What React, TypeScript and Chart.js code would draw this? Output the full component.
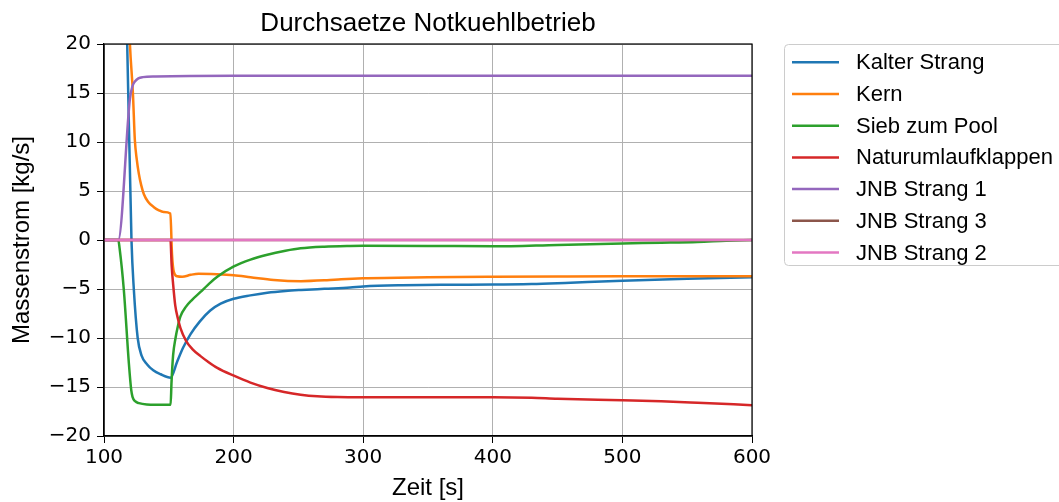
import React, { useEffect, useRef } from 'react';
import { Chart, registerables } from 'chart.js';

Chart.register(...registerables);

const TITLE = 'Durchsaetze Notkuehlbetrieb';
const X_TITLE = 'Zeit [s]';
const Y_TITLE = 'Massenstrom [kg/s]';

const xTicks = [100, 200, 300, 400, 500, 600];
const yTicks = [20, 15, 10, 5, 0, -5, -10, -15, -20];

const seriesNames = [
  'Kalter Strang',
  'Kern',
  'Sieb zum Pool',
  'Naturumlaufklappen',
  'JNB Strang 1',
  'JNB Strang 3',
  'JNB Strang 2',
];
const seriesColors = ['#1f77b4', '#ff7f0e', '#2ca02c', '#d62728', '#9467bd', '#8c564b', '#e377c2'];

// Kalter Strang
const kalterT = [100, 114, 117.9, 121.2, 123, 126, 129, 133.3, 138, 143.6, 151.4, 156.5, 161, 166.8, 174, 182, 190, 200, 213, 226, 240, 252, 270, 290, 300, 330, 360, 400, 430, 460, 500, 550, 600];
const kalterV = [60, 40, 20, 0, -5, -10, -11.8, -12.7, -13.3, -13.7, -14.05, -12.4, -11, -9.6, -8.3, -7.2, -6.5, -6.0, -5.65, -5.38, -5.2, -5.1, -4.98, -4.85, -4.75, -4.62, -4.56, -4.55, -4.5, -4.35, -4.15, -3.95, -3.8];

// Kern
const kernT = [100, 116, 120, 122.3, 123.8, 125.3, 126.9, 128.7, 130.7, 134, 138.5, 142, 146, 151.2, 152.5, 154, 156.5, 160.3, 167, 173, 187, 200, 213, 231, 252, 272, 283, 300, 350, 400, 450, 500, 550, 600];
const kernV = [45, 35, 20, 15, 10.2, 8.2, 6.75, 5.6, 4.7, 3.9, 3.35, 3.05, 2.85, 2.7, -1.5, -3.3, -3.7, -3.75, -3.55, -3.45, -3.5, -3.6, -3.8, -4.08, -4.2, -4.1, -4.0, -3.9, -3.8, -3.75, -3.72, -3.7, -3.7, -3.7];

// Sieb zum Pool
const siebT = [100, 111, 112, 115.3, 119.2, 121, 122, 124, 127, 133, 140, 151.4, 152.1, 153.3, 155.2, 157, 159, 163.3, 168, 174.5, 180, 187.4, 200.2, 213, 226, 240, 251.7, 270, 290, 300, 350, 400, 450, 500, 530, 558, 580, 600];
const siebV = [0, 0, -0.8, -5.1, -12.6, -15.3, -16.0, -16.45, -16.65, -16.78, -16.8, -16.8, -14.5, -11.8, -10.0, -8.8, -7.8, -6.8, -6.1, -5.3, -4.6, -3.75, -2.7, -2.0, -1.5, -1.1, -0.85, -0.68, -0.6, -0.58, -0.6, -0.65, -0.5, -0.35, -0.28, -0.2, -0.08, 0];

// Naturumlaufklappen
const klappenT = [100, 151.3, 152.2, 153.4, 155, 157, 159, 163.3, 168, 174.5, 180, 187.4, 200.2, 213, 226, 239, 251.7, 264.6, 280, 300, 350, 400, 430, 450, 500, 530, 558, 600];
const klappenV = [0, 0, -2.6, -4.6, -6.7, -8.0, -9.0, -10.3, -11.1, -11.85, -12.4, -13.05, -13.85, -14.55, -15.1, -15.5, -15.78, -15.95, -16.03, -16.05, -16.05, -16.05, -16.1, -16.2, -16.35, -16.45, -16.6, -16.85];

// JNB Strang 1
const jnb1T = [100, 111, 120, 122, 124, 126.5, 130, 140, 200, 300, 400, 600];
const jnb1V = [0, 0, 14.4, 15.7, 16.2, 16.5, 16.62, 16.68, 16.75, 16.75, 16.75, 16.75];

// JNB Strang 3
const jnb3T = [100, 600];
const jnb3V = [0, 0];

// JNB Strang 2
const jnb2T = [100, 600];
const jnb2V = [0, 0];

const seriesT = [kalterT, kernT, siebT, klappenT, jnb1T, jnb3T, jnb2T];
const seriesV = [kalterV, kernV, siebV, klappenV, jnb1V, jnb3V, jnb2V];

const fmtMinus = (v: number) => (v < 0 ? '\u2212' + Math.abs(v) : String(v));

const decorPlugin = {
  id: 'decor',
  afterDraw(chart: any) {
    const { ctx, chartArea: a } = chart;
    ctx.save();
    // frame
    ctx.strokeStyle = '#000';
    ctx.lineWidth = 1.2;
    ctx.strokeRect(a.left, a.top, a.right - a.left, a.bottom - a.top);

    ctx.fillStyle = '#000';
    ctx.textAlign = 'center';
    ctx.textBaseline = 'middle';
    ctx.font = '26px "Liberation Sans", Arial, sans-serif';
    ctx.fillText(TITLE, (a.left + a.right) / 2, 24);
    ctx.font = '24px "Liberation Sans", Arial, sans-serif';
    ctx.fillText(X_TITLE, (a.left + a.right) / 2, 488);
    ctx.save();
    ctx.translate(22, (a.top + a.bottom) / 2);
    ctx.rotate(-Math.PI / 2);
    ctx.fillText(Y_TITLE, 0, 0);
    ctx.restore();

    // legend
    const bx = 784.5, by = 44.5, bw = 300, bh = 221, r = 4;
    ctx.beginPath();
    ctx.moveTo(bx + r, by);
    ctx.lineTo(bx + bw - r, by);
    ctx.arcTo(bx + bw, by, bx + bw, by + r, r);
    ctx.lineTo(bx + bw, by + bh - r);
    ctx.arcTo(bx + bw, by + bh, bx + bw - r, by + bh, r);
    ctx.lineTo(bx + r, by + bh);
    ctx.arcTo(bx, by + bh, bx, by + bh - r, r);
    ctx.lineTo(bx, by + r);
    ctx.arcTo(bx, by, bx + r, by, r);
    ctx.closePath();
    ctx.fillStyle = '#fff';
    ctx.fill();
    ctx.strokeStyle = '#cccccc';
    ctx.lineWidth = 1;
    ctx.stroke();

    ctx.font = '22px "Liberation Sans", Arial, sans-serif';
    ctx.textAlign = 'left';
    ctx.textBaseline = 'middle';
    chart.data.datasets.forEach((ds: any, i: number) => {
      const y = 62.3 + i * 31.7;
      ctx.strokeStyle = ds.borderColor;
      ctx.lineWidth = 2.5;
      ctx.beginPath();
      ctx.moveTo(792, y);
      ctx.lineTo(839, y);
      ctx.stroke();
      ctx.fillStyle = '#000';
      ctx.fillText(ds.label, 856, y + 1);
    });
    ctx.restore();
  },
};

export default function App() {
  const ref = useRef<HTMLCanvasElement | null>(null);
  useEffect(() => {
    if (!ref.current) return;
    const datasets = seriesNames.map((name, i) => ({
      label: name,
      data: seriesT[i].map((t, j) => ({ x: t, y: seriesV[i][j] })),
      borderColor: seriesColors[i],
      backgroundColor: seriesColors[i],
      borderWidth: 2.5,
      pointRadius: 0,
      fill: false,
      cubicInterpolationMode: 'monotone' as const,
      order: seriesNames.length - i,
    }));
    const chart = new Chart(ref.current, {
      type: 'line',
      data: { datasets },
      options: {
        animation: false,
        responsive: false,
        devicePixelRatio: 1,
        layout: { padding: { left: 0, top: 44, right: 307, bottom: 0 } },
        plugins: { legend: { display: false }, tooltip: { enabled: false }, title: { display: false } },
        scales: {
          x: {
            type: 'linear',
            min: 100,
            max: 600,
            afterBuildTicks: (s: any) => { s.ticks = xTicks.map((v) => ({ value: v })); },
            afterFit: (s: any) => { s.height = 66; },
            ticks: { color: '#000', font: { family: '"DejaVu Sans"', size: 20 }, padding: 3, maxRotation: 0 },
            grid: { color: '#b0b0b0', tickColor: '#000', tickLength: 7, lineWidth: 1 },
            border: { color: '#000', width: 1.2 },
          },
          y: {
            type: 'linear',
            min: -20,
            max: 20,
            afterBuildTicks: (s: any) => { s.ticks = yTicks.map((v) => ({ value: v })); },
            afterFit: (s: any) => { s.width = 104; },
            ticks: { color: '#000', font: { family: '"DejaVu Sans"', size: 20 }, padding: 6, callback: (v: any) => fmtMinus(Number(v)) },
            grid: { color: '#b0b0b0', tickColor: '#000', tickLength: 7, lineWidth: 1 },
            border: { color: '#000', width: 1.2 },
          },
        },
      },
      plugins: [decorPlugin],
    });
    return () => chart.destroy();
  }, []);
  return (
    <div style={{ position: 'absolute', left: 0, top: 0, width: 1059, height: 502, background: '#fff' }}>
      <canvas ref={ref} width={1059} height={502} style={{ width: 1059, height: 502, display: 'block' }} />
    </div>
  );
}
